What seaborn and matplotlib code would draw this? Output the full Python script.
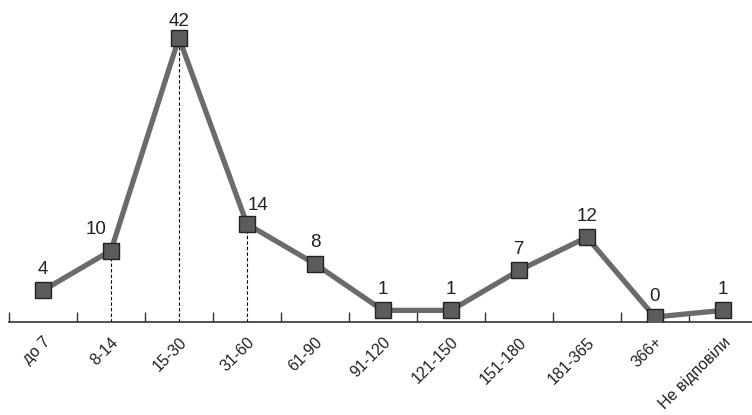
import matplotlib
matplotlib.use("Agg")
import matplotlib.pyplot as plt
import seaborn as sns
import pandas as pd
import numpy as np

# Number of respondents by duration group (days)
categories = ["до 7", "8-14", "15-30", "31-60", "61-90", "91-120",
              "121-150", "151-180", "181-365", "366+", "Не відповіли"]
counts = [4, 10, 42, 14, 8, 1, 1, 7, 12, 0, 1]
# groups that get a dashed drop line down to the axis
dropped = ["8-14", "15-30", "31-60"]

sns.set_theme(style="white")
plt.rcParams["font.family"] = ["Liberation Sans", "DejaVu Sans"]

df = pd.DataFrame({"group": categories, "count": counts})

fig = plt.figure(figsize=(7.52, 4.15), dpi=100)
ax = fig.add_axes([9 / 752, 93 / 415, 743 / 752, 322 / 415])

sns.lineplot(data=df, x="group", y="count", sort=False, ax=ax,
             color="#6b6b6b", linewidth=3.8, marker="s", markersize=11.5,
             markerfacecolor="#5c5c5c", markeredgecolor="#222222",
             markeredgewidth=1.0, zorder=3)

ymin = -0.75
ax.set_ylim(ymin, 47.7)
ax.set_xlim(-0.5, 10.43)

# dashed drop lines
for i, (c, v) in enumerate(zip(categories, counts)):
    if c in dropped:
        ax.plot([i, i], [ymin, v], color="black", linestyle=(0, (3, 2)),
                linewidth=0.8, zorder=2)

# value labels; a few are nudged sideways to keep clear of the line
label_shift = {"8-14": (-11, 0), "31-60": (8, -2), "15-30": (0, -3)}
for i, (c, v) in enumerate(zip(categories, counts)):
    dx, dy = label_shift.get(c, (0, 0))
    ax.annotate(str(v), (i, v), xytext=(dx, 9 + dy), textcoords="offset points",
                ha="center", va="bottom", fontsize=13.5, color="#222222")

for s in ["top", "right", "left"]:
    ax.spines[s].set_visible(False)
ax.spines["bottom"].set_color("#333333")
ax.spines["bottom"].set_linewidth(1.2)

ax.set_yticks([])
ax.set_xticks(range(len(categories)))
ax.set_xticklabels(categories, rotation=45, ha="right", rotation_mode="anchor",
                   fontsize=11.5, color="#222222")
ax.tick_params(axis="x", which="major", length=0, pad=9)
ax.set_xticks(np.arange(len(categories)) - 0.5, minor=True)
ax.tick_params(axis="x", which="minor", direction="in", length=7,
               width=1.0, color="#333333", bottom=True)
ax.set_xlabel("")
ax.set_ylabel("")

fig.savefig("out.png", dpi=100)
